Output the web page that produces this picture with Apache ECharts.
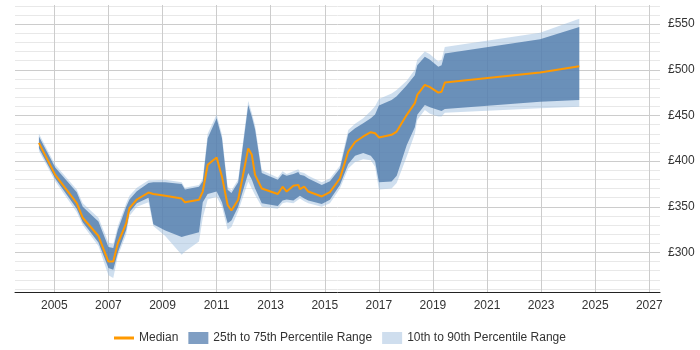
<!DOCTYPE html>
<html>
<head>
<meta charset="utf-8">
<script src="https://cdn.jsdelivr.net/npm/echarts@6/dist/echarts.min.js"></script>
<style>
    html, body { margin: 0; padding: 0; background: #fff; }
    #chart { width: 700px; height: 350px; }
</style>
</head>
<body>
<div id="chart"></div>
<script>
// 数据
var dates = ['2004-06-06', '2005-01-12', '2005-10-30', '2006-01-19', '2006-08-19', '2007-01-01', '2007-03-07',
    '2007-05-08', '2007-08-29', '2007-10-12', '2008-01-19', '2008-06-25', '2008-08-29', '2009-02-06',
    '2009-09-16', '2009-10-30', '2010-05-08', '2010-06-28', '2010-09-02', '2011-01-01', '2011-03-14',
    '2011-05-30', '2011-07-20', '2011-10-19', '2012-03-03', '2012-04-20', '2012-06-03', '2012-09-02',
    '2013-04-06', '2013-06-10', '2013-08-04', '2013-11-03', '2014-01-08', '2014-01-30', '2014-03-29',
    '2014-05-23', '2014-11-21', '2015-03-11', '2015-07-24', '2015-11-14', '2016-02-14', '2016-06-03',
    '2016-09-13', '2016-11-10', '2017-01-01', '2017-06-21', '2017-08-29', '2018-01-12', '2018-05-01',
    '2018-06-03', '2018-09-13', '2018-11-21', '2019-03-14', '2019-04-27', '2019-06-10', '2022-12-17',
    '2024-05-30'];

var median = [420, 385, 354, 338, 318, 290, 290, 310, 332, 348.6, 358, 365.6, 364, 362, 359, 355, 357.7,
    366.7, 396, 404, 383, 352, 346, 357.7, 414, 407, 385, 370, 364, 372, 366.7, 373, 374, 369.4, 372,
    366.7, 361.3, 366, 381, 410.5, 421, 427, 431.7, 430.6, 426, 428.8, 432.4, 450.7, 463.5, 472.5, 483.5,
    481, 475, 476, 486, 497, 504];

var p25 = [414, 381, 348, 333, 311, 283, 281, 300, 325, 344, 354, 360, 331, 324, 317, 318, 322, 355, 364,
    366.7, 355, 332, 335, 350, 387, 380, 370, 354, 351, 357, 358, 357, 362, 362, 359, 357, 353, 357.7, 374,
    397, 406, 409, 406, 400, 377, 377.7, 384, 417.8, 437, 450.7, 461.6, 459, 456, 455, 457, 465, 467];

var p75 = [427, 393, 366, 350, 334, 306, 305, 325, 350, 358, 367, 376, 377, 377, 375, 369, 372, 378, 425,
    447, 425, 368.6, 365, 377, 461.6, 449, 435, 387, 379.5, 386, 384, 386, 388, 385, 384, 381, 374, 378,
    392, 430, 436, 441.6, 447, 451, 461, 467, 471, 483, 494, 505, 514.4, 511, 503.5, 505, 518, 533.5, 547];

var p10 = [411, 378, 344, 330, 307, 275, 272, 296, 320, 340, 350, 355, 329, 318, 297.5, 301, 312, 338, 358,
    361, 350, 325, 328, 345, 377.7, 370, 363, 350, 348, 354, 355, 354, 359, 359, 356, 354, 350, 354, 370,
    392, 399, 402, 401, 394, 369, 370, 376, 405, 430, 445, 456, 452, 449, 449, 453, 458, 459.5];

var p90 = [430, 396, 369, 354, 338, 311, 309, 329, 354, 362, 371, 379, 379, 379.5, 377, 371, 374, 381, 430,
    451, 429, 372, 368, 380, 466, 453, 439, 390, 382, 389, 386, 389, 391, 388, 387, 384, 377, 381, 395,
    434, 441, 447, 455, 460, 468, 474, 478, 488, 500, 511, 520, 517, 509, 511, 525, 540.7, 556];

// 刻度
var xTicks = [2005, 2007, 2009, 2011, 2013, 2015, 2017, 2019, 2021, 2023, 2025, 2027];
var yTicks = [300, 350, 400, 450, 500, 550];
var yMinorTicks = [260, 270, 280, 290, 310, 320, 330, 340, 360, 370, 380, 390, 410, 420, 430, 440,
    460, 470, 480, 490, 510, 520, 530, 540, 560, 570];

var names = ['Median', '25th to 75th Percentile Range', '10th to 90th Percentile Range'];

function toTime(s) {
    var p = s.split('-');
    return new Date(+p[0], +p[1] - 1, +p[2]).getTime();
}
function pairs(ys) {
    return dates.map(function (d, i) { return [toTime(d), ys[i]]; });
}
function spread(lo, hi) {
    return dates.map(function (d, i) { return [toTime(d), +(hi[i] - lo[i]).toFixed(2)]; });
}

var lightBand = 'rgba(160,192,224,0.5)';
var darkBand = 'rgba(68,113,165,0.72)';
var orange = '#ff9900';
var font = 'Liberation Sans, Arial, sans-serif';

var hidden = { opacity: 0, width: 0 };

option = {
    animation: false,
    textStyle: { fontFamily: font },
    grid: { left: 15, right: 40, top: 5, bottom: 58, outerBoundsMode: 'none' },
    legend: {
        left: 109,
        top: 327,
        itemWidth: 20,
        itemHeight: 12,
        itemGap: 10,
        textStyle: { fontSize: 12, color: '#333', fontFamily: font },
        data: [
            { name: names[0], icon: 'path://M0,0 L20,0 L20,3 L0,3 Z', itemStyle: { color: orange } },
            { name: names[1], icon: 'rect', itemStyle: { color: '#7f9ec3' } },
            { name: names[2], icon: 'rect', itemStyle: { color: '#cfdeee' } }
        ]
    },
    xAxis: [{
        // 数据用的时间轴 (隐藏)
        type: 'time',
        show: false,
        position: 'bottom',
        min: toTime('2003-07-19'),
        max: toTime('2027-05-25')
    }, {
        // 刻度/网格用的年份轴
        type: 'value',
        position: 'bottom',
        min: 2003.546,
        max: 2027.396,
        axisLine: { lineStyle: { color: '#222', width: 1 } },
        axisTick: { show: false, customValues: xTicks },
        axisLabel: {
            customValues: xTicks,
            color: '#333',
            fontSize: 12,
            margin: 8,
            formatter: function (v) { return String(v); }
        },
        splitLine: { show: true, lineStyle: { color: '#cccccc', width: 1 } }
    }],
    yAxis: [{
        type: 'value',
        position: 'right',
        min: 256.7,
        max: 571,
        axisLine: { show: false },
        axisTick: { show: false, customValues: yTicks },
        axisLabel: {
            customValues: yTicks,
            color: '#333',
            fontSize: 12,
            margin: 8,
            formatter: '£{value}'
        },
        splitLine: { show: true, lineStyle: { color: '#cccccc', width: 1 } }
    }, {
        type: 'value',
        position: 'right',
        min: 256.7,
        max: 571,
        axisLine: { show: false },
        axisTick: { show: false, customValues: yMinorTicks },
        axisLabel: { show: false },
        splitLine: { show: true, lineStyle: { color: '#e8e8e8', width: 1 } }
    }],
    series: [{
        name: 'p10',
        type: 'line',
        stack: 'outer',
        data: pairs(p10),
        showSymbol: false,
        lineStyle: hidden,
        silent: true
    }, {
        name: names[2],
        type: 'line',
        stack: 'outer',
        data: spread(p10, p90),
        showSymbol: false,
        lineStyle: hidden,
        itemStyle: { color: '#cfdeee' },
        areaStyle: { color: lightBand, opacity: 1 },
        silent: true
    }, {
        name: 'p25',
        type: 'line',
        stack: 'inner',
        data: pairs(p25),
        showSymbol: false,
        lineStyle: hidden,
        silent: true
    }, {
        name: names[1],
        type: 'line',
        stack: 'inner',
        data: spread(p25, p75),
        showSymbol: false,
        lineStyle: hidden,
        itemStyle: { color: '#7f9ec3' },
        areaStyle: { color: darkBand, opacity: 1 },
        silent: true
    }, {
        name: names[0],
        type: 'line',
        data: pairs(median),
        showSymbol: false,
        itemStyle: { color: orange },
        lineStyle: { color: orange, width: 2 },
        z: 5
    }]
};

var chart = echarts.init(document.getElementById('chart'));
chart.setOption(option);
</script>
</body>
</html>
